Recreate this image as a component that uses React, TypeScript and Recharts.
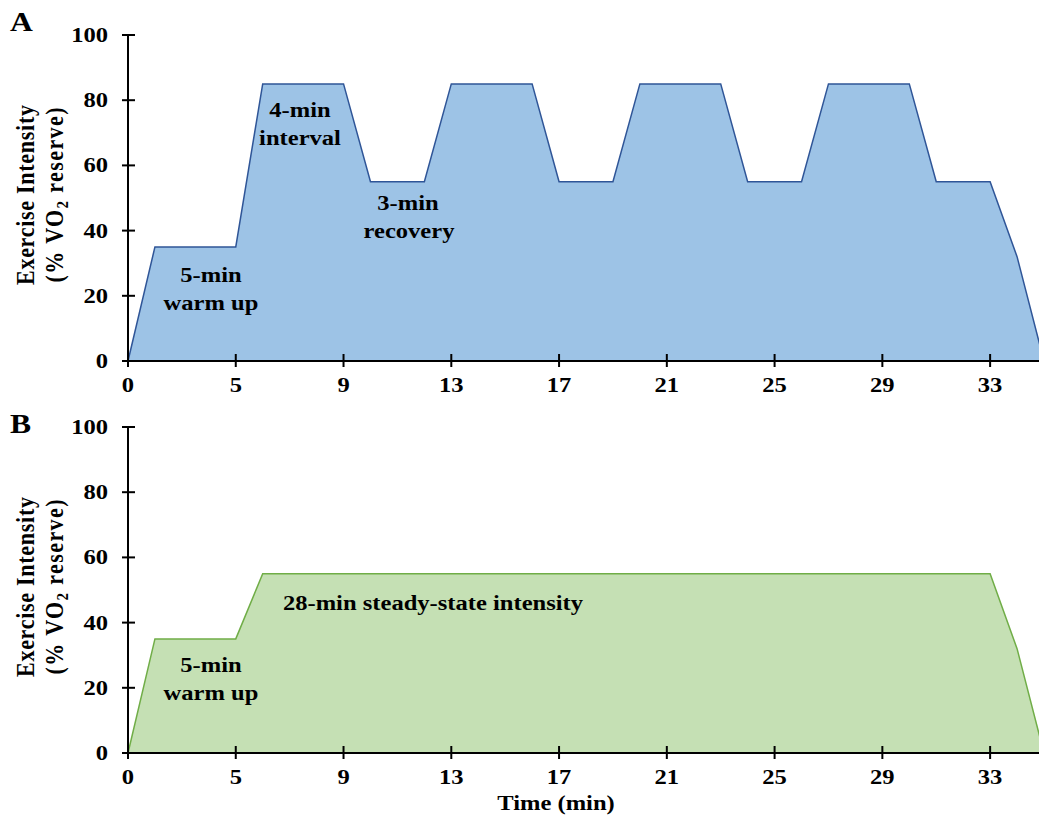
import React from 'react';
import { AreaChart, Area, XAxis, YAxis } from 'recharts';

// category index (one per minute step) and the values of each protocol
const minuteIndex = [0,1,2,3,4,5,6,7,8,9,10,11,12,13,14,15,16,17,18,19,20,21,22,23,24,25,26,27,28,29,30,31,32,33,34];
const intervalValues = [0,35,35,35,35,85,85,85,85,55,55,55,85,85,85,85,55,55,55,85,85,85,85,55,55,55,85,85,85,85,55,55,55,32,0];
const steadyValues = [0,35,35,35,35,55,55,55,55,55,55,55,55,55,55,55,55,55,55,55,55,55,55,55,55,55,55,55,55,55,55,55,55,32,0];
const tickIndex = [0,4,8,12,16,20,24,28,32];
const tickLabels = ['0','5','9','13','17','21','25','29','33'];
const yTicks = [0,20,40,60,80,100];

const dataA = minuteIndex.map((i, k) => ({ idx: i, value: intervalValues[k] }));
const dataB = minuteIndex.map((i, k) => ({ idx: i, value: steadyValues[k] }));

const FONT = "Liberation Serif, Times New Roman, serif";
const SX = 1.17;
const FS = 21;

const XTick = (props: any) => {
  const { x, y, payload } = props;
  const label = tickLabels[tickIndex.indexOf(payload.value)];
  return (
    <g transform={`translate(${x},${y})`}>
      <line x1={0} x2={0} y1={-15} y2={-2} stroke="#000" strokeWidth={2} />
      <text transform={`translate(0,23) scale(${SX},1)`} textAnchor="middle" fontFamily={FONT} fontWeight="bold" fontSize={FS} fill="#000">{label}</text>
    </g>
  );
};

const YTick = (props: any) => {
  const { x, y, payload } = props;
  return (
    <g transform={`translate(${x},${y})`}>
      <line x1={14} x2={27} y1={0} y2={0} stroke="#000" strokeWidth={2} />
      <text transform={`translate(0,7) scale(${SX},1)`} textAnchor="end" fontFamily={FONT} fontWeight="bold" fontSize={FS} fill="#000">{payload.value}</text>
    </g>
  );
};

const T = ({ x, y, children, size = FS, anchor = 'middle' }: any) => (
  <text transform={`translate(${x},${y}) scale(${SX},1)`} textAnchor={anchor} fontFamily={FONT} fontWeight="bold" fontSize={size} fill="#000">{children}</text>
);

const YTitle = ({ cy }: { cy: number }) => (
  <g>
    <text transform={`translate(34,${cy}) scale(${SX},1) rotate(-90)`} textAnchor="middle" fontFamily={FONT} fontWeight="bold" fontSize={22} fill="#000" textLength={180}>Exercise Intensity</text>
    <text transform={`translate(63,${cy}) scale(${SX},1) rotate(-90)`} textAnchor="middle" fontFamily={FONT} fontWeight="bold" fontSize={22} fill="#000" textLength={175}>
      (% VO<tspan fontSize={15} dy={4}>2</tspan><tspan dy={-4}> reserve)</tspan>
    </text>
  </g>
);

const Panel = ({ data, fill, stroke }: any) => (
  <AreaChart width={1050} height={420} data={data} margin={{ top: 35, right: 6, bottom: 0, left: 0 }}>
    <XAxis dataKey="idx" type="number" domain={[0, 34]} ticks={tickIndex} interval={0} height={59}
      tickSize={6} tickMargin={2} tickLine={false} axisLine={{ stroke: '#000', strokeWidth: 2 }} tick={<XTick />} />
    <YAxis type="number" domain={[0, 100]} ticks={yTicks} interval={0} width={128}
      tickSize={6} tickMargin={14} tickLine={false} axisLine={{ stroke: '#000', strokeWidth: 2 }} tick={<YTick />} />
    <Area type="linear" dataKey="value" fill={fill} fillOpacity={1} stroke={stroke} strokeWidth={1.5} dot={false} activeDot={false} isAnimationActive={false} />
  </AreaChart>
);

export default function App() {
  return (
    <div style={{ position: 'absolute', left: 0, top: 0, width: 1039, height: 828, overflow: 'hidden', background: '#fff' }}>
      <div style={{ position: 'absolute', left: 0, top: 0 }}>
        <Panel data={dataA} fill="#9DC3E6" stroke="#2F5597" />
      </div>
      <div style={{ position: 'absolute', left: 0, top: 392 }}>
        <Panel data={dataB} fill="#C5E0B4" stroke="#70AD47" />
      </div>
      <svg width={1039} height={828} style={{ position: 'absolute', left: 0, top: 0, pointerEvents: 'none' }}>
        <T x={10} y={31} size={27} anchor="start">A</T>
        <T x={10} y={433} size={27} anchor="start">B</T>
        <YTitle cy={195} />
        <YTitle cy={587} />
        <T x={300} y={117}>4-min</T>
        <T x={300} y={145}>interval</T>
        <T x={408} y={210}>3-min</T>
        <T x={409} y={238}>recovery</T>
        <T x={211} y={282}>5-min</T>
        <T x={211} y={310}>warm up</T>
        <T x={433} y={610}>28-min steady-state intensity</T>
        <T x={211} y={672}>5-min</T>
        <T x={211} y={700}>warm up</T>
        <T x={556} y={810}>Time (min)</T>
      </svg>
    </div>
  );
}
